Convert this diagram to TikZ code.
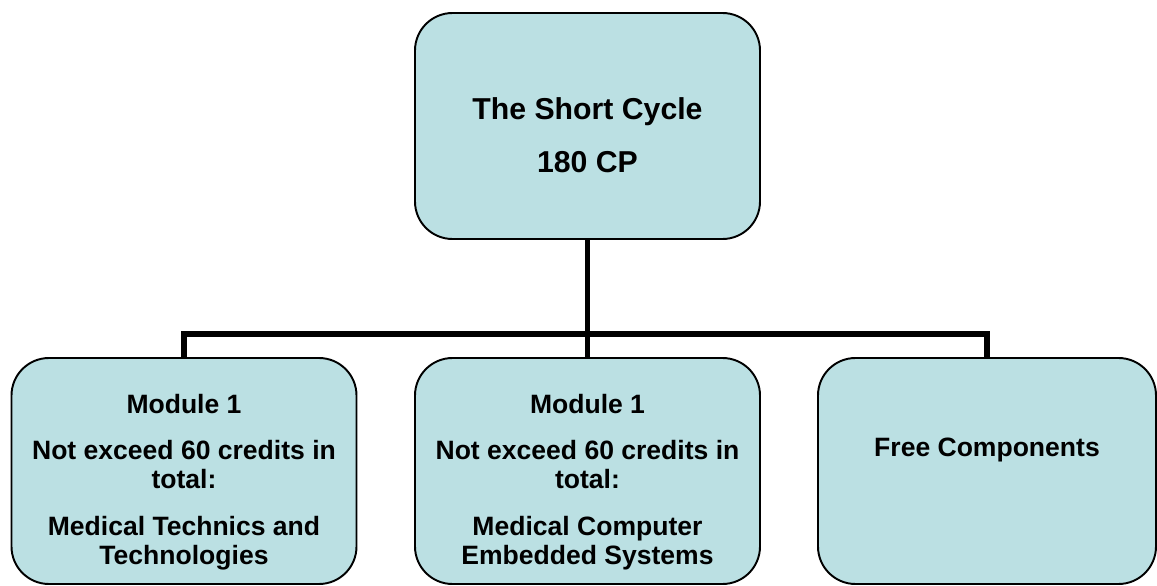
\documentclass[tikz,border=0pt]{standalone}
\usepackage{fontspec}
\setmainfont{Liberation Sans}
\definecolor{boxblue}{RGB}{187,224,227}
\begin{document}
\begin{tikzpicture}[box/.style={draw,line width=1.1pt,fill=boxblue,rounded corners=0.75cm,
    minimum width=6.9cm,minimum height=4.52cm,align=center,
    font=\bfseries\fontsize{15.1}{16.5}\selectfont},
  link/.style={line width=3.4pt}]
\useasboundingbox (0,0) rectangle (23.14,-11.72);
\clip (0,0) rectangle (23.14,-11.72);
% the cycle and its three parts
\node[box,font=\bfseries\fontsize{17.2}{30.2}\selectfont] (cycle) at (11.75,-2.52){\rule{0pt}{22.6pt}The Short Cycle\\180 CP};
\node[box] (tech) at (3.68,-9.42){\rule{0pt}{23.5pt}Module 1\\[10pt]Not exceed 60 credits in\\total:\\[10pt]Medical Technics and\\Technologies};
\node[box] (embed) at (11.75,-9.42){\rule{0pt}{23.5pt}Module 1\\[10pt]Not exceed 60 credits in\\total:\\[10pt]Medical Computer\\Embedded Systems};
\node[box,minimum width=6.76cm,text height=11pt,text depth=27.3pt] (free) at (19.74,-9.42){Free Components};
% connectors
\coordinate (bus) at (0,-6.68);
\draw[link](cycle.south)--(embed.north);
\draw[link](tech.north)--(tech.north|-bus)--(free.north|-bus)--(free.north);
\end{tikzpicture}
\end{document}
